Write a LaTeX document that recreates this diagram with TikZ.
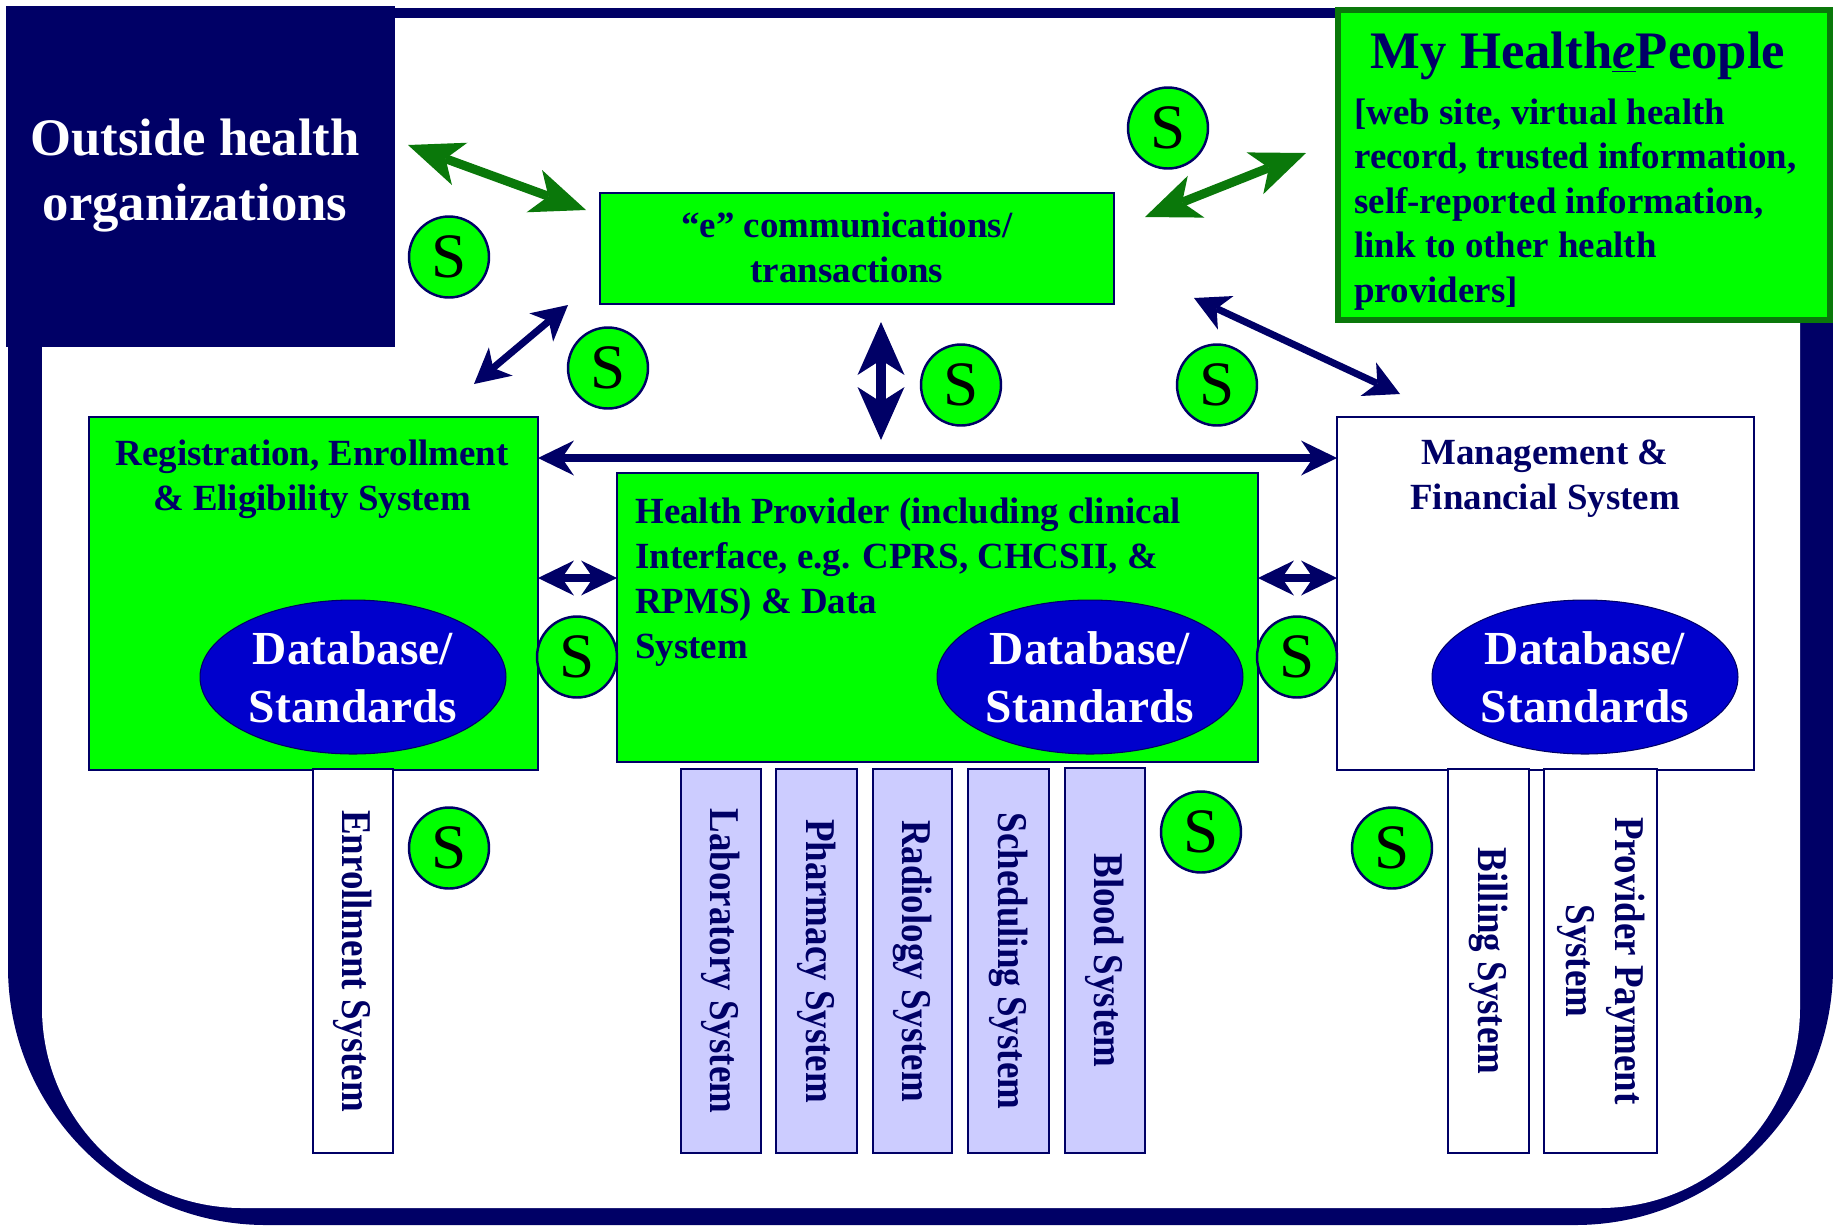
\documentclass[tikz,border=0pt]{standalone}
\usepackage{fontspec}
\setmainfont{Liberation Serif}
\usepackage{graphicx}
\usetikzlibrary{arrows.meta,shapes.geometric}
\definecolor{navy}{RGB}{0,0,102}
\definecolor{bgreen}{RGB}{0,255,0}
\definecolor{dgreen}{RGB}{10,120,10}
\definecolor{dbblue}{RGB}{0,0,204}
\definecolor{lav}{RGB}{204,204,255}
\newcommand\vstretch[1]{\scalebox{1}[1.15]{#1}}
\tikzset{
  htip/.tip={Stealth[length=0.72cm,width=0.70cm,inset=0.24cm,line width=0pt]},
  vtip/.tip={Stealth[length=1.06cm,width=0.94cm,inset=0.30cm,line width=0pt]},
  dtip/.tip={Stealth[length=0.70cm,width=0.74cm,inset=0.20cm,line width=0pt]},
  gtip/.tip={Stealth[length=1.10cm,width=0.90cm,inset=0.30cm,line width=0pt]},
  harrow/.style={draw=navy, line width=0.16cm, htip-htip},
  varrow/.style={draw=navy, line width=0.20cm, vtip-vtip},
  darrow/.style={draw=navy, line width=0.14cm, dtip-dtip},
  garrow/.style={draw=dgreen, line width=0.18cm, gtip-gtip},
  boxbase/.style={rectangle, inner sep=0pt, outer sep=0pt, draw=navy, line width=1.4pt},
  gbox/.style={boxbase, fill=bgreen},
  wbox/.style={boxbase, fill=white},
  lbox/.style={boxbase, fill=lav},
  lbl/.style={font=\fontsize{21}{25.6}\selectfont\bfseries, text=navy, inner sep=0pt, align=center, anchor=base},
  dbell/.style={ellipse, fill=dbblue, draw=navy, line width=0.6pt, minimum width=6.12cm, minimum height=3.08cm, inner sep=0pt, font=\fontsize{27}{33}\selectfont\bfseries, text=white, align=center},
  sbub/.style={ellipse, fill=bgreen, draw=navy, line width=1.4pt, minimum width=1.6cm, minimum height=1.62cm, inner sep=0pt, font=\fontsize{36}{36}\selectfont},
  vtxt/.style={rotate=-90, font=\fontsize{21}{24}\selectfont\bfseries, text=navy, align=center, minimum width=7.68cm},
}
\begin{document}
\begin{tikzpicture}[x=0.02cm, y=-0.02cm]
\useasboundingbox (0,0) rectangle (1833,1225);
% frame
\fill[navy, rounded corners=5.16cm] (8,8) rectangle (1833,1225);
\fill[white, rounded corners=4cm] (42,18) rectangle (1800,1208);
% outside organizations
\node[rectangle, fill=navy, inner sep=0pt, outer sep=0pt, minimum width=7.78cm, minimum height=6.82cm] (outside) at (200.5,176.5) {};
\node[font=\fontsize{30}{37}\selectfont\bfseries, text=white, align=center, anchor=base, inner sep=0pt] (outT) at (195,220) {Outside health\\organizations};
% My HealthePeople
\node[rectangle, fill=bgreen, draw=dgreen, line width=0.12cm, inner sep=0pt, minimum width=9.84cm, minimum height=6.21cm] (mhp) at (1584,164.75) {};
\node[font=\fontsize{30}{36}\selectfont\bfseries, text=navy, anchor=base, inner sep=0pt] (mhT) at (1578,68) {My Health\underline{\textit{e}}People};
\node[font=\fontsize{21}{25.3}\selectfont\bfseries, text=navy, align=left, anchor=base west, inner sep=0pt] (mhB) at (1354,302) {[web site, virtual health\\record, trusted information,\\self-reported information,\\link to other health\\providers]};
% e communications
\node[gbox, minimum width=10.28cm, minimum height=2.22cm] (ecomm) at (857,248.5) {};
\node[lbl] (ecT) at (847,282) {“e” communications/\\transactions};
% registration
\node[gbox, minimum width=8.98cm, minimum height=7.06cm] (reg) at (313.5,593.5) {};
\node[lbl] (regT) at (312,510) {Registration, Enrollment\\\& Eligibility System};
\node[dbell] (regDB) at (353,677) {Database/\\Standards};
% health provider
\node[gbox, minimum width=12.82cm, minimum height=5.78cm] (hp) at (937.5,617.5) {};
\node[lbl, align=left, anchor=base west] (hpT) at (635,658) {Health Provider (including clinical\\Interface, e.g. CPRS, CHCSII, \&\\RPMS) \& Data\\System};
\node[dbell] (hpDB) at (1090,677) {Database/\\Standards};
% management
\node[wbox, minimum width=8.34cm, minimum height=7.06cm] (mgmt) at (1545.5,593.5) {};
\node[lbl] (mgmtT) at (1545,509) {Management \&\\Financial System};
\node[dbell] (mgmtDB) at (1585,677) {Database/\\Standards};
% vertical subsystems
\node[vtxt, wbox, minimum height=1.6cm] (enr) at (353,961) {\vstretch{Enrollment System}};
\node[vtxt, lbox, minimum height=1.6cm] (lab) at (721,961) {\vstretch{Laboratory System}};
\node[vtxt, lbox, minimum height=1.62cm] (pha) at (816.5,961) {\vstretch{Pharmacy System}};
\node[vtxt, lbox, minimum height=1.58cm] (rad) at (912.5,961) {\vstretch{Radiology System}};
\node[vtxt, lbox, minimum height=1.62cm] (sch) at (1008.5,961) {\vstretch{Scheduling System}};
\node[vtxt, lbox, minimum height=1.6cm, minimum width=7.7cm] (blo) at (1105,960.5) {\vstretch{Blood System}};
\node[vtxt, wbox, minimum height=1.62cm] (bil) at (1488.5,961) {\vstretch{Billing System}};
\node[vtxt, wbox, minimum height=2.26cm] (ppay) at (1600.5,961) {\vstretch{\begin{tabular}{@{}c@{}}Provider Payment\\System\end{tabular}}};
% arrows
\coordinate (hrow) at (0,458);
\coordinate (srow) at (0,578);
\draw[harrow] (reg.east |- hrow) -- (mgmt.west |- hrow);
\draw[harrow] (reg.east |- srow) -- (hp.west |- srow);
\draw[harrow] (hp.east |- srow) -- (mgmt.west |- srow);
\coordinate (g1a) at (408,145); \coordinate (g1b) at (586,210);
\draw[garrow] (g1a) -- (g1b);
\coordinate (g2a) at (1145,217); \coordinate (g2b) at (1306,153);
\draw[garrow] (g2a) -- (g2b);
\coordinate (d1a) at (474,384); \coordinate (d1b) at (568,305);
\draw[darrow] (d1a) -- (d1b);
\coordinate (d2a) at (1194,298); \coordinate (d2b) at (1400,394);
\draw[darrow] (d2a) -- (d2b);
\coordinate (v1a) at (881,322); \coordinate (v1b) at (881,440);
\draw[varrow] (v1a) -- (v1b);
% S bubbles
\node[sbub] (s1) at (449,257) {S};
\node[sbub] (s2) at (608,368) {S};
\node[sbub] (s3) at (1168,128) {S};
\node[sbub] (s4) at (961,385) {S};
\node[sbub] (s5) at (1217,385) {S};
\node[sbub] (s6) at (577,657) {S};
\node[sbub] (s7) at (1297,657) {S};
\node[sbub] (s8) at (449,848) {S};
\node[sbub] (s9) at (1201,832) {S};
\node[sbub] (s10) at (1392,848) {S};
\end{tikzpicture}
\end{document}
